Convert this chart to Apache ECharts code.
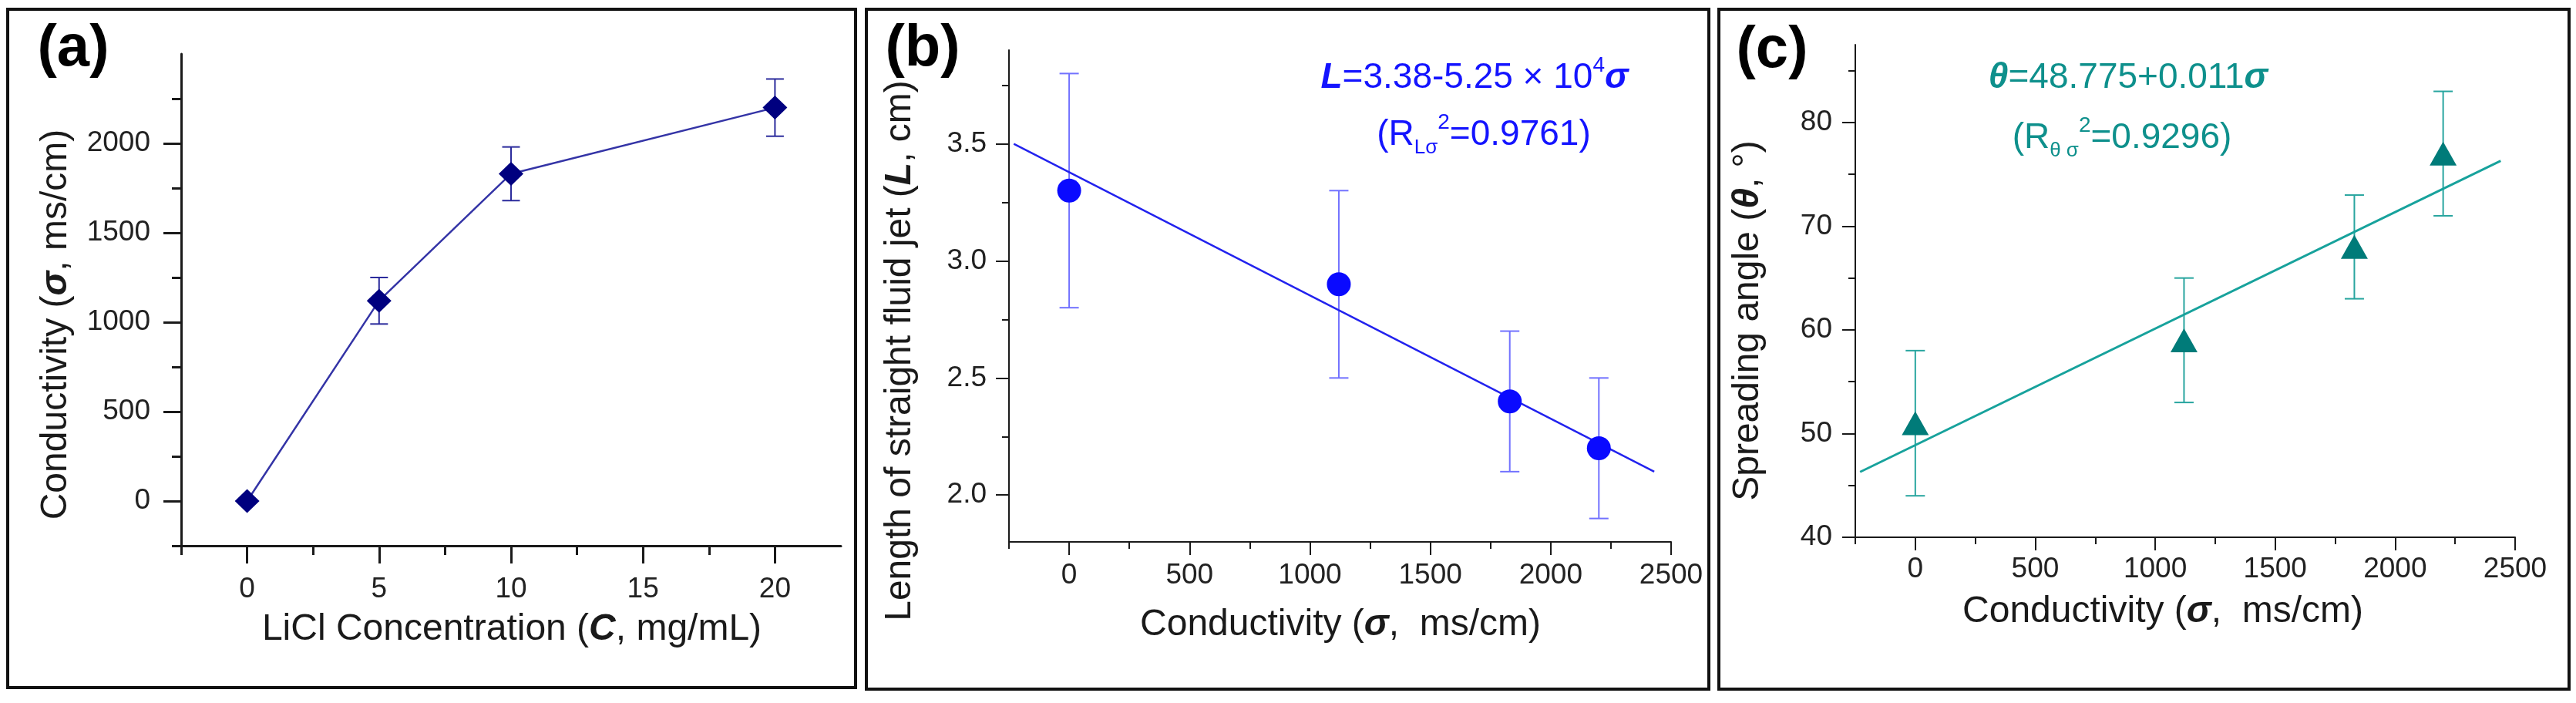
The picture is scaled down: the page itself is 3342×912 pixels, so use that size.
<!DOCTYPE html>
<html>
<head>
<meta charset="utf-8">
<title>Conductivity, jet length and spreading angle</title>
<script src="https://cdn.jsdelivr.net/npm/echarts@6.0.0/dist/echarts.min.js"></script>
<style>
  html, body { margin: 0; padding: 0; background: #fff; }
  #chart { width: 3342px; height: 912px; }
</style>
</head>
<body>
<div id="chart"></div>
<script>
// values
const concentration = [0, 5, 10, 20];          // LiCl, mg/mL
const conductivity = [0, 1120, 1830, 2200];    // ms/cm
const conductivityErr = [0, 130, 150, 160];
const jetLength = [3.3, 2.9, 2.4, 2.2];        // cm
const jetLengthErr = [0.5, 0.4, 0.3, 0.3];
const angle = [51, 59, 68, 77];                // degrees
const angleErr = [7, 6, 5, 6];
const jetFit = [[-230, 3.5], [2430, 2.1]];     // fitted line ends
const angleFit = [[-230, 46.3], [2440, 76.3]];

// tick labels
const aXTicks = [0, 5, 10, 15, 20];
const aXMinor = [-2.5, 2.5, 7.5, 12.5, 17.5];
const aYTicks = [0, 500, 1000, 1500, 2000];
const aYMinor = [-250, 250, 750, 1250, 1750, 2250];
const sigmaTicks = [0, 500, 1000, 1500, 2000, 2500];
const sigmaMinor = [-250, 250, 750, 1250, 1750, 2250];
const bYTicks = [2.0, 2.5, 3.0, 3.5];
const bYMinor = [2.25, 2.75, 3.25, 3.75];
const cYTicks = [40, 50, 60, 70, 80];
const cYMinor = [45, 55, 65, 75, 85];

const FONT = "Liberation Sans";
const AXIS = "#1a1a1a";

function mainAxis(grid, pos, min, max, ticks, fmt, o) {
	return {
		type: "value", gridIndex: grid, position: pos, min: min, max: max,
		splitLine: { show: false },
		axisLine: { show: true, onZero: false, lineStyle: { color: AXIS, width: o.lw } },
		axisTick: { show: true, customValues: ticks, length: o.major, lineStyle: { color: AXIS, width: o.lw } },
		axisLabel: { show: true, customValues: ticks, formatter: fmt, margin: o.margin,
			fontSize: 37, fontFamily: FONT, color: "#222" },
	};
}

function minorAxis(grid, pos, min, max, ticks, o) {
	return {
		type: "value", gridIndex: grid, position: pos, min: min, max: max,
		splitLine: { show: false },
		axisLine: { show: false, onZero: false },
		axisLabel: { show: false },
		axisTick: { show: true, customValues: ticks, length: o.minor, lineStyle: { color: AXIS, width: o.lw } },
	};
}

function errorBars(axis, xs, ys, errs, color, cap) {
	var data = [];
	for (let i = 0; i < xs.length; i++) {
		if (errs[i] > 0) data.push([xs[i], ys[i] - errs[i], ys[i] + errs[i]]);
	}
	return {
		type: "custom", xAxisIndex: axis, yAxisIndex: axis, z: 1, silent: true,
		data: data,
		renderItem: function (params, api) {
			const lo = api.coord([api.value(0), api.value(1)]);
			const hi = api.coord([api.value(0), api.value(2)]);
			const h = cap / 2;
			const st = { stroke: color, lineWidth: 2 };
			return {
				type: "group",
				children: [
					{ type: "line", shape: { x1: hi[0], y1: hi[1], x2: lo[0], y2: lo[1] }, style: st },
					{ type: "line", shape: { x1: hi[0] - h, y1: hi[1], x2: hi[0] + h, y2: hi[1] }, style: st },
					{ type: "line", shape: { x1: lo[0] - h, y1: lo[1], x2: lo[0] + h, y2: lo[1] }, style: st },
				],
			};
		},
	};
}

function pairs(xs, ys) {
	return xs.map((x, i) => [x, ys[i]]);
}

// text helpers for the graphic layer
function tok(size, color, extra) {
	return Object.assign({ fontSize: size, fontFamily: FONT, fill: color, fontWeight: "normal",
		fontStyle: "normal", lineHeight: 60, verticalAlign: "middle" }, extra || {});
}

function richSet(size, color) {
	return {
		n: tok(size, color),
		bi: tok(size, color, { fontWeight: "bold", fontStyle: "italic" }),
		sup: tok(28, color, { lineHeight: 28, verticalAlign: "top" }),
		sub: tok(26, color, { lineHeight: 15, verticalAlign: "bottom" }),
		p: tok(size, color, { fontWeight: "bold", lineHeight: 80 }),
	};
}

function label(x, y, text, size, color, rot) {
	return {
		type: "text", x: x, y: y, rotation: rot || 0, z: 10,
		style: { text: text, fontSize: size, fontFamily: FONT, fill: color,
			align: "center", verticalAlign: "middle", rich: richSet(size, color) },
	};
}

function frame(x, y, w, h) {
	return { type: "rect", z: 0, shape: { x: x, y: y, width: w, height: h },
		style: { fill: "none", stroke: "#111", lineWidth: 4 } };
}

const BLUE = "#1414ff";
const TEAL = "#0e908c";
const R90 = Math.PI / 2;

const aStyle = { lw: 3, major: 23, minor: 12, margin: 40 };
const axStyle = { lw: 3, major: 23, minor: 12, margin: 38 };
const bStyle = { lw: 2, major: 17, minor: 9, margin: 29 };
const bxStyle = { lw: 2, major: 17, minor: 9, margin: 25 };
const cStyle = { lw: 2, major: 17, minor: 9, margin: 30 };
const cxStyle = { lw: 2, major: 17, minor: 9, margin: 23 };

const option = {
	animation: false,
	backgroundColor: "#fff",
	grid: [
		{ left: 235, top: 70, width: 856, height: 638, outerBoundsMode: "none" },
		{ left: 1309, top: 65, width: 859, height: 638, outerBoundsMode: "none" },
		{ left: 2407, top: 58, width: 856, height: 639, outerBoundsMode: "none" },
	],
	xAxis: [
		mainAxis(0, "bottom", -2.5, 22.5, aXTicks, (v) => String(v), axStyle),
		minorAxis(0, "bottom", -2.5, 22.5, aXMinor, axStyle),
		mainAxis(1, "bottom", -250, 2500, sigmaTicks, (v) => String(v), bxStyle),
		minorAxis(1, "bottom", -250, 2500, sigmaMinor, bxStyle),
		mainAxis(2, "bottom", -250, 2500, sigmaTicks, (v) => String(v), cxStyle),
		minorAxis(2, "bottom", -250, 2500, sigmaMinor, cxStyle),
	],
	yAxis: [
		mainAxis(0, "left", -250, 2500, aYTicks, (v) => String(v), aStyle),
		minorAxis(0, "left", -250, 2500, aYMinor, aStyle),
		mainAxis(1, "left", 1.8, 3.9, bYTicks, (v) => v.toFixed(1), bStyle),
		minorAxis(1, "left", 1.8, 3.9, bYMinor, bStyle),
		mainAxis(2, "left", 40, 87.5, cYTicks, (v) => String(v), cStyle),
		minorAxis(2, "left", 40, 87.5, cYMinor, cStyle),
	],
	series: [
		// (a)
		errorBars(0, concentration, conductivity, conductivityErr, "#2b2b9c", 23),
		{
			type: "line", xAxisIndex: 0, yAxisIndex: 0, z: 2,
			data: pairs(concentration, conductivity),
			symbol: "diamond", symbolSize: [32, 31], showSymbol: true,
			itemStyle: { color: "#00007f", opacity: 1 },
			lineStyle: { color: "#3434a6", width: 2.5 },
		},
		// (b)
		{
			type: "line", xAxisIndex: 2, yAxisIndex: 2, z: 2,
			data: jetFit, symbol: "none",
			lineStyle: { color: "#2222ee", width: 2.5 },
		},
		errorBars(2, conductivity, jetLength, jetLengthErr, "#7272ff", 25),
		{
			type: "scatter", xAxisIndex: 2, yAxisIndex: 2, z: 3,
			data: pairs(conductivity, jetLength),
			symbol: "circle", symbolSize: 31,
			itemStyle: { color: "#0a0aff", opacity: 1 },
		},
		// (c)
		{
			type: "line", xAxisIndex: 4, yAxisIndex: 4, z: 2,
			data: angleFit, symbol: "none",
			lineStyle: { color: "#17a29c", width: 3 },
		},
		errorBars(4, conductivity, angle, angleErr, "#28a59f", 25),
		{
			type: "scatter", xAxisIndex: 4, yAxisIndex: 4, z: 3,
			data: pairs(conductivity, angle),
			symbol: "triangle", symbolSize: [35, 31],
			itemStyle: { color: "#007b79", opacity: 1 },
		},
	],
	graphic: [
		frame(10, 12, 1100, 880),
		frame(1124, 12, 1093, 882),
		frame(2230, 12, 1103, 882),

		label(95, 64, "{p|(a)}", 76, "#000"),
		label(1197, 64, "{p|(b)}", 76, "#000"),
		label(2299, 66, "{p|(c)}", 76, "#000"),

		label(73, 421, "{n|Conductivity (}{bi|σ}{n|, ms/cm)}", 48, "#1a1a1a", R90),
		label(664, 817, "{n|LiCl Concentration (}{bi|C}{n|, mg/mL)}", 48, "#1a1a1a"),
		label(1168, 455, "{n|Length of straight fluid jet (}{bi|L}{n|, cm)}", 48, "#1a1a1a", R90),
		label(1739, 811, "{n|Conductivity (}{bi|σ}{n|,  ms/cm)}", 48, "#1a1a1a"),
		label(2268, 416, "{n|Spreading angle (}{bi|θ}{n|, °)}", 48, "#1a1a1a", R90),
		label(2806, 794, "{n|Conductivity (}{bi|σ}{n|,  ms/cm)}", 48, "#1a1a1a"),

		label(1913, 101, "{bi|L}{n|=3.38-5.25 × 10}{sup|4}{bi|σ}", 46, BLUE),
		label(1925, 175, "{n|(R}{sub|Lσ}{sup|2}{n|=0.9761)}", 46, BLUE),
		label(2761, 101, "{bi|θ}{n|=48.775+0.011}{bi|σ}", 46, TEAL),
		label(2753, 179, "{n|(R}{sub|θ σ}{sup|2}{n|=0.9296)}", 46, TEAL),
	],
};

var chart = echarts.init(document.getElementById("chart"), null, { renderer: "canvas" });
chart.setOption(option);
</script>
</body>
</html>
